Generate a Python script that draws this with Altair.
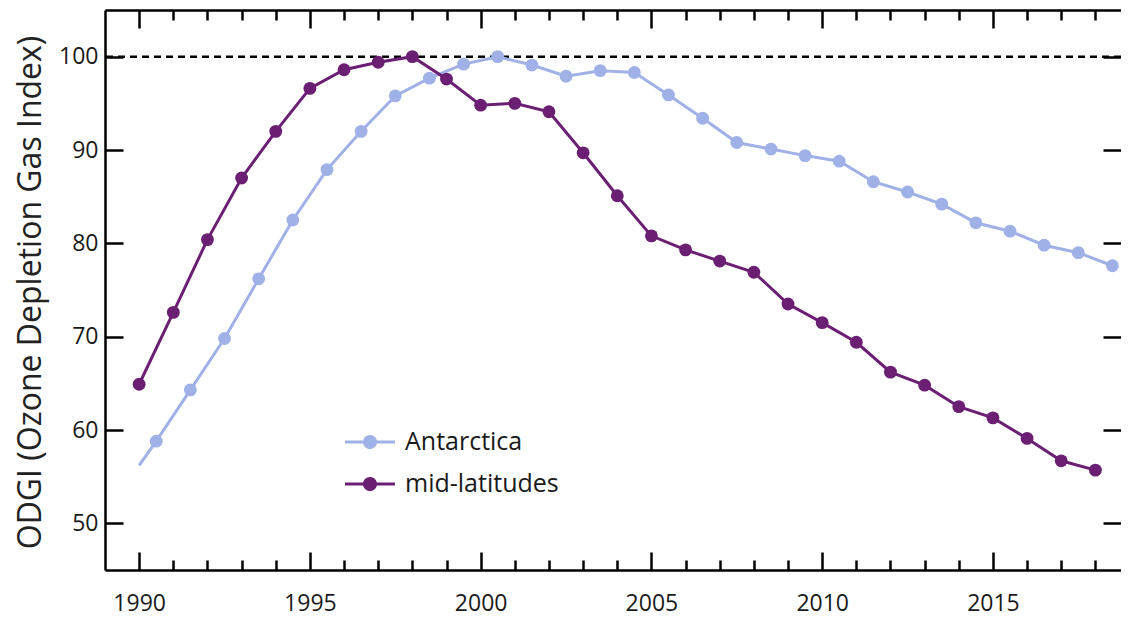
import altair as alt
import pandas as pd

# ---- data ----
mid_years = [1990, 1991, 1992, 1993, 1994, 1995, 1996, 1997, 1998, 1999,
             2000, 2001, 2002, 2003, 2004, 2005, 2006, 2007, 2008, 2009,
             2010, 2011, 2012, 2013, 2014, 2015, 2016, 2017, 2018]
mid_vals = [64.9, 72.6, 80.4, 87.0, 92.0, 96.6, 98.6, 99.4, 100.0, 97.6,
            94.8, 95.0, 94.1, 89.7, 85.1, 80.8, 79.3, 78.1, 76.9, 73.5,
            71.5, 69.4, 66.2, 64.8, 62.5, 61.3, 59.1, 56.7, 55.7]

ant_years = [1990.5, 1991.5, 1992.5, 1993.5, 1994.5, 1995.5, 1996.5, 1997.5, 1998.5, 1999.5,
             2000.5, 2001.5, 2002.5, 2003.5, 2004.5, 2005.5, 2006.5, 2007.5, 2008.5, 2009.5,
             2010.5, 2011.5, 2012.5, 2013.5, 2014.5, 2015.5, 2016.5, 2017.5, 2018.5]
ant_vals = [58.8, 64.3, 69.8, 76.2, 82.5, 87.9, 92.0, 95.8, 97.7, 99.2,
            100.0, 99.1, 97.9, 98.5, 98.3, 95.9, 93.4, 90.8, 90.1, 89.4,
            88.8, 86.6, 85.5, 84.2, 82.2, 81.3, 79.8, 79.0, 77.6]
# line-only starting point of the Antarctica curve (no marker)
ant_start_year = [1990]
ant_start_val = [56.2]

series_names = ["Antarctica", "mid-latitudes"]
series_colors = ["#9FB1E6", "#6B1F73"]
reference_level = [100]

x_tick_values = list(range(1990, 2019))
y_tick_values = [50, 60, 70, 80, 90, 100]

# ---- table ----
rows = []
for yr, v in zip(ant_start_year, ant_start_val):
    rows.append({"series": "Antarctica", "year": yr, "odgi": v, "marker": False})
for yr, v in zip(ant_years, ant_vals):
    rows.append({"series": "Antarctica", "year": yr, "odgi": v, "marker": True})
for yr, v in zip(mid_years, mid_vals):
    rows.append({"series": "mid-latitudes", "year": yr, "odgi": v, "marker": True})
df = pd.DataFrame(rows)
ref_df = pd.DataFrame({"level": reference_level})

FONT = "Open Sans"
xs = alt.Scale(domain=[1989, 2018.75], nice=False, zero=False)
ys = alt.Scale(domain=[45, 105], nice=False, zero=False)
cs = alt.Scale(domain=series_names, range=series_colors)

x_tick_size = {"condition": {"test": "datum.value % 5 === 0", "value": -18}, "value": -10}
y_tick_size = {"condition": {"test": "datum.value % 10 === 0", "value": -18}, "value": -18}

common = dict(tickColor="black", tickWidth=2.5, domainColor="black", domainWidth=2.5,
              grid=False, labelFlush=False, labelOverlap=False)

x_bottom = alt.Axis(orient="bottom", values=x_tick_values, format="d",
                    labelExpr="datum.value % 5 === 0 ? datum.label : ''",
                    tickSize=x_tick_size, labelFontSize=23, labelFont=FONT,
                    labelColor="#1a1a1a", labelPadding=40, title=None, **common)
x_top = alt.Axis(orient="top", values=x_tick_values, tickSize=x_tick_size,
                 labels=False, title=None, **common)
y_left = alt.Axis(orient="left", values=y_tick_values, tickSize=y_tick_size,
                  labelFontSize=23, labelFont=FONT, labelColor="#1a1a1a",
                  labelPadding=25, labelBaseline="middle",
                  title="ODGI (Ozone Depletion Gas Index)", titleFont=FONT,
                  titleFontSize=32, titleFontWeight="normal", titleColor="#222222",
                  titleX=-75, titleY=282, titleBaseline="middle", **common)
y_right = alt.Axis(orient="right", values=y_tick_values, tickSize=y_tick_size,
                   labels=False, title=None, domain=False,
                   tickColor="black", tickWidth=2.5, grid=False)

# legend symbol: a short line with a dot, drawn as one filled shape
legend_symbol = ("M-1.67,-0.1L1.67,-0.1L1.67,0.1L-1.67,0.1Z"
                 "M0.47,0A0.47,0.47 0 1 1 -0.47,0A0.47,0.47 0 1 1 0.47,0Z")

leg = alt.Legend(title=None, orient="none", legendX=250, legendY=417,
                 symbolType=legend_symbol, symbolSize=900, symbolStrokeWidth=0,
                 labelFont=FONT, labelFontSize=25, labelColor="#1a1a1a",
                 labelOffset=20, rowPadding=14, padding=0, symbolOpacity=1)

rule = alt.Chart(ref_df).mark_rule(color="black", strokeWidth=2.5, strokeDash=[7, 5]).encode(
    y=alt.Y("level:Q", scale=ys, axis=None)
)

lines = alt.Chart(df).mark_line(strokeWidth=3).encode(
    x=alt.X("year:Q", scale=xs, axis=x_bottom),
    y=alt.Y("odgi:Q", scale=ys, axis=y_left),
    color=alt.Color("series:N", scale=cs, legend=leg),
)

points = alt.Chart(df).transform_filter("datum.marker").mark_point(
    filled=True, size=165, opacity=1
).encode(
    x=alt.X("year:Q", scale=xs, axis=x_top),
    y=alt.Y("odgi:Q", scale=ys, axis=y_right),
    color=alt.Color("series:N", scale=cs, legend=leg),
)

chart = alt.layer(rule, lines, points).resolve_axis(
    x="independent", y="independent"
).properties(
    width=1016, height=560,
    padding={"left": 97, "top": 2, "right": 0, "bottom": 49},
    autosize=alt.AutoSizeParams(type="none"),
    background="white",
).configure_view(stroke=None)

chart.save("out.html", embed_options={"renderer": "svg", "actions": False})
